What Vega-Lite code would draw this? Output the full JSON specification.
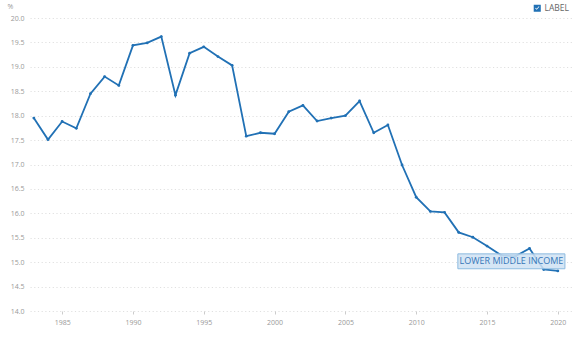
{
  "$schema": "https://vega.github.io/schema/vega-lite/v6.json",
  "width": 543,
  "height": 293,
  "autosize": {"type": "none"},
  "padding": {"left": 30, "top": 18, "right": 6, "bottom": 47},
  "background": "white",
  "config": {
    "view": {"stroke": null},
    "font": "Open Sans",
    "axis": {"labelFont": "Open Sans", "titleFont": "Open Sans", "labelOverlap": false},
    "axisY": {"labelOverlap": false, "labelBound": false}
  },
  "datasets": {
    "series": [
      {"year": 1983, "value": 17.95, "series": "LABEL"},
      {"year": 1984, "value": 17.51, "series": "LABEL"},
      {"year": 1985, "value": 17.88, "series": "LABEL"},
      {"year": 1986, "value": 17.74, "series": "LABEL"},
      {"year": 1987, "value": 18.45, "series": "LABEL"},
      {"year": 1988, "value": 18.80, "series": "LABEL"},
      {"year": 1989, "value": 18.62, "series": "LABEL"},
      {"year": 1990, "value": 19.44, "series": "LABEL"},
      {"year": 1991, "value": 19.49, "series": "LABEL"},
      {"year": 1992, "value": 19.62, "series": "LABEL"},
      {"year": 1993, "value": 18.42, "series": "LABEL"},
      {"year": 1994, "value": 19.28, "series": "LABEL"},
      {"year": 1995, "value": 19.41, "series": "LABEL"},
      {"year": 1996, "value": 19.21, "series": "LABEL"},
      {"year": 1997, "value": 19.03, "series": "LABEL"},
      {"year": 1998, "value": 17.58, "series": "LABEL"},
      {"year": 1999, "value": 17.65, "series": "LABEL"},
      {"year": 2000, "value": 17.63, "series": "LABEL"},
      {"year": 2001, "value": 18.08, "series": "LABEL"},
      {"year": 2002, "value": 18.21, "series": "LABEL"},
      {"year": 2003, "value": 17.89, "series": "LABEL"},
      {"year": 2004, "value": 17.95, "series": "LABEL"},
      {"year": 2005, "value": 18.00, "series": "LABEL"},
      {"year": 2006, "value": 18.30, "series": "LABEL"},
      {"year": 2007, "value": 17.65, "series": "LABEL"},
      {"year": 2008, "value": 17.81, "series": "LABEL"},
      {"year": 2009, "value": 16.99, "series": "LABEL"},
      {"year": 2010, "value": 16.33, "series": "LABEL"},
      {"year": 2011, "value": 16.04, "series": "LABEL"},
      {"year": 2012, "value": 16.02, "series": "LABEL"},
      {"year": 2013, "value": 15.61, "series": "LABEL"},
      {"year": 2014, "value": 15.51, "series": "LABEL"},
      {"year": 2015, "value": 15.33, "series": "LABEL"},
      {"year": 2016, "value": 15.14, "series": "LABEL"},
      {"year": 2017, "value": 15.12, "series": "LABEL"},
      {"year": 2018, "value": 15.28, "series": "LABEL"},
      {"year": 2019, "value": 14.85, "series": "LABEL"},
      {"year": 2020, "value": 14.82, "series": "LABEL"}
    ],
    "annotation": [
      {"label": "LOWER MIDDLE INCOME"}
    ]
  },
  "layer": [
    {
      "data": {"name": "series"},
      "mark": {"type": "line", "strokeWidth": 1.8, "point": {"filled": true, "size": 8, "color": "#1b5e9c"}},
      "encoding": {
        "x": {
          "field": "year", "type": "quantitative",
          "scale": {"domain": [1982.73, 2021.07], "nice": false, "zero": false},
          "axis": {
            "title": null,
            "values": [1985, 1990, 1995, 2000, 2005, 2010, 2015, 2020],
            "tickCount": 20,
            "format": "d",
            "grid": false,
            "domain": false,
            "ticks": true,
            "tickSize": 3,
            "tickColor": "#cccccc",
            "tickWidth": 1,
            "labelPadding": 4,
            "labelFontSize": 7,
            "labelColor": "#999999",
            "labelOverlap": false
          }
        },
        "y": {
          "field": "value", "type": "quantitative",
          "scale": {"domain": [14, 20], "nice": false, "zero": false},
          "axis": {
            "title": "%",
            "titleAngle": 0,
            "titleAlign": "left",
            "titleBaseline": "alphabetic",
            "titleX": -23,
            "titleY": -10,
            "titleFontSize": 7,
            "titleFontWeight": "normal",
            "titleColor": "#999999",
            "values": [14, 14.5, 15, 15.5, 16, 16.5, 17, 17.5, 18, 18.5, 19, 19.5, 20],
            "tickCount": 20,
            "format": ".1f",
            "grid": true,
            "gridColor": "#e0e0e0",
            "gridDash": [1.2, 2.5],
            "gridWidth": 1,
            "domain": false,
            "ticks": false,
            "labelPadding": 6,
            "labelFontSize": 7,
            "labelColor": "#999999",
            "labelOverlap": false
          }
        },
        "color": {
          "field": "series", "type": "nominal",
          "scale": {"domain": ["LABEL"], "range": ["#2171b5"]},
          "legend": {
            "title": null,
            "orient": "none",
            "legendX": 503,
            "legendY": -14,
            "symbolType": "M-1,-1L1,-1L1,1L-1,1ZM-0.6,0L-0.15,0.45L0.6,-0.4L0.45,-0.55L-0.15,0.15L-0.45,-0.15Z",
            "symbolSize": 50,
            "labelFontSize": 8.5,
            "labelColor": "#666666",
            "labelOffset": 3,
            "encode": {
              "symbols": {"update": {"fill": {"value": "#2b7de0"}, "stroke": {"value": "#2b7de0"}, "strokeWidth": {"value": 0}, "opacity": {"value": 1}}}
            }
          }
        }
      }
    },
    {
      "data": {"name": "annotation"},
      "mark": {"type": "rect", "fill": "#cfe2f3", "fillOpacity": 0.85, "stroke": "#8dbbe0", "strokeWidth": 1},
      "encoding": {
        "x": {"datum": 2012.94, "type": "quantitative"},
        "x2": {"datum": 2020.5},
        "y": {"datum": 15.17, "type": "quantitative"},
        "y2": {"datum": 14.865}
      }
    },
    {
      "data": {"name": "annotation"},
      "mark": {"type": "text", "fontSize": 9, "color": "#3576b8", "align": "center", "baseline": "middle", "font": "Open Sans"},
      "encoding": {
        "x": {"datum": 2016.72, "type": "quantitative"},
        "y": {"datum": 15.02, "type": "quantitative"},
        "text": {"field": "label"}
      }
    }
  ]
}
